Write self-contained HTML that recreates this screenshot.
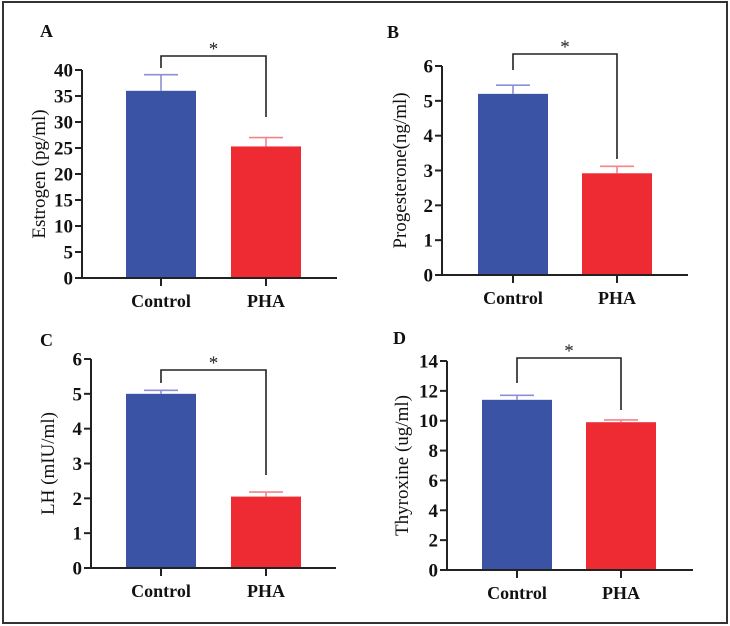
<!DOCTYPE html>
<html><head><meta charset="utf-8">
<style>
html,body{margin:0;padding:0;background:#fff;}
svg{display:block;font-family:"Liberation Serif",serif;}
</style></head>
<body>
<svg id="chart" width="730" height="626" viewBox="0 0 730 626" xmlns="http://www.w3.org/2000/svg">
<rect x="3" y="2" width="724" height="621" fill="#fff" stroke="#333" stroke-width="2"/>
</svg>
<script>
const categories = ["Control", "PHA"];
const estrogenValues = [36, 25.3];
const estrogenErrors = [39.1, 27.0];
const progesteroneValues = [5.2, 2.92];
const progesteroneErrors = [5.45, 3.12];
const lhValues = [5.0, 2.05];
const lhErrors = [5.1, 2.18];
const thyroxineValues = [11.4, 9.9];
const thyroxineErrors = [11.7, 10.05];
const estrogenTicks = [0,5,10,15,20,25,30,35,40];
const progesteroneTicks = [0,1,2,3,4,5,6];
const lhTicks = [0,1,2,3,4,5,6];
const thyroxineTicks = [0,2,4,6,8,10,12,14];

const NS = "http://www.w3.org/2000/svg";
const svg = document.getElementById('chart');
function mk(tag, attrs, parent, text){
  const e = document.createElementNS(NS, tag);
  for (const k in attrs) e.setAttribute(k, attrs[k]);
  if (text !== undefined) e.textContent = text;
  (parent||svg).appendChild(e);
  return e;
}
const barFill = ["#3a53a4", "#ee2a33"];
const errCol = ["#8b90d6", "#f2848a"];

const panels = [
  {id:"a", letter:"A", lx:40, ly:37, title:"Estrogen (pg/ml)", values:estrogenValues, errors:estrogenErrors, ticks:estrogenTicks,
   ax:82, y0:278, yTop:70, axEnd:337, cx:[161,266], bw:70, brTop:56, brL:68, brR:117, tx:45},
  {id:"b", letter:"B", lx:387, ly:38, title:"Progesterone(ng/ml)", values:progesteroneValues, errors:progesteroneErrors, ticks:progesteroneTicks,
   ax:442, y0:275, yTop:66, axEnd:688, cx:[513,617], bw:70, brTop:54, brL:70, brR:159, tx:406},
  {id:"c", letter:"C", lx:40, ly:346, title:"LH (mIU/ml)", values:lhValues, errors:lhErrors, ticks:lhTicks,
   ax:91, y0:568, yTop:359, axEnd:336, cx:[161,266], bw:70, brTop:370, brL:383, brR:475, tx:54},
  {id:"d", letter:"D", lx:393, ly:344, title:"Thyroxine (ug/ml)", values:thyroxineValues, errors:thyroxineErrors, ticks:thyroxineTicks,
   ax:447, y0:570, yTop:361, axEnd:693, cx:[517,621], bw:70, brTop:358, brL:383, brR:410, tx:408}
];

panels.forEach(p => {
  const g = mk('g', {});
  
  
  const tmax = p.ticks[p.ticks.length-1];
  const y = v => p.y0 - (v / tmax) * (p.y0 - p.yTop);

  const lt = mk('text', {x:p.lx, y:p.ly, 'font-size':18, 'font-weight':'bold', fill:'#111'}, g, p.letter);
  
  

  p.values.forEach((v, i) => {
    const b = mk('rect', {x:p.cx[i]-p.bw/2, y:y(v), width:p.bw, height:p.y0-y(v), fill:barFill[i]}, g);
    
    
    const eb = mk('path', {d:`M${p.cx[i]} ${y(v)}V${y(p.errors[i])}M${p.cx[i]-17} ${y(p.errors[i])}H${p.cx[i]+17}`, stroke:errCol[i], 'stroke-width':1.6, fill:'none'}, g);
    
    
  });

  const ya = mk('path', {d:`M${p.ax} ${p.yTop}V${p.y0}`, stroke:'#222', 'stroke-width':2, fill:'none'}, g);
  
  
  const xa = mk('path', {d:`M${p.ax} ${p.y0}H${p.axEnd}`, stroke:'#222', 'stroke-width':2, fill:'none'}, g);
  
  

  p.ticks.forEach(t => {
    const tk = mk('path', {d:`M${p.ax-7} ${y(t)}H${p.ax}`, stroke:'#222', 'stroke-width':2}, g);
    
    
    const tl = mk('text', {x:p.ax-9, y:y(t)+6.5, 'text-anchor':'end', 'font-size':19, 'font-weight':'bold', fill:'#111'}, g, String(t));
    
    
  });

  categories.forEach((c, i) => {
    const tk = mk('path', {d:`M${p.cx[i]} ${p.y0}V${p.y0+8}`, stroke:'#222', 'stroke-width':2}, g);
    
    
    const tl = mk('text', {x:p.cx[i], y:p.y0+29, 'text-anchor':'middle', 'font-size':18, 'font-weight':'bold', fill:'#111'}, g, c);
    
    
  });

  const midY = (p.y0 + p.yTop) / 2;
  const yt = mk('text', {x:0, y:0, transform:`translate(${p.tx},${midY}) rotate(-90)`, 'text-anchor':'middle', 'font-size':19, fill:'#111'}, g, p.title);
  
  

  const br = mk('path', {d:`M${p.cx[0]} ${p.brL}V${p.brTop}H${p.cx[1]}V${p.brR}`, stroke:'#222', 'stroke-width':1.6, fill:'none'}, g);
  
  
  const st = mk('text', {x:(p.cx[0]+p.cx[1])/2, y:p.brTop-1, 'text-anchor':'middle', 'font-size':19, fill:'#222'}, g, '*');
  
  
});
</script>
</body></html>
